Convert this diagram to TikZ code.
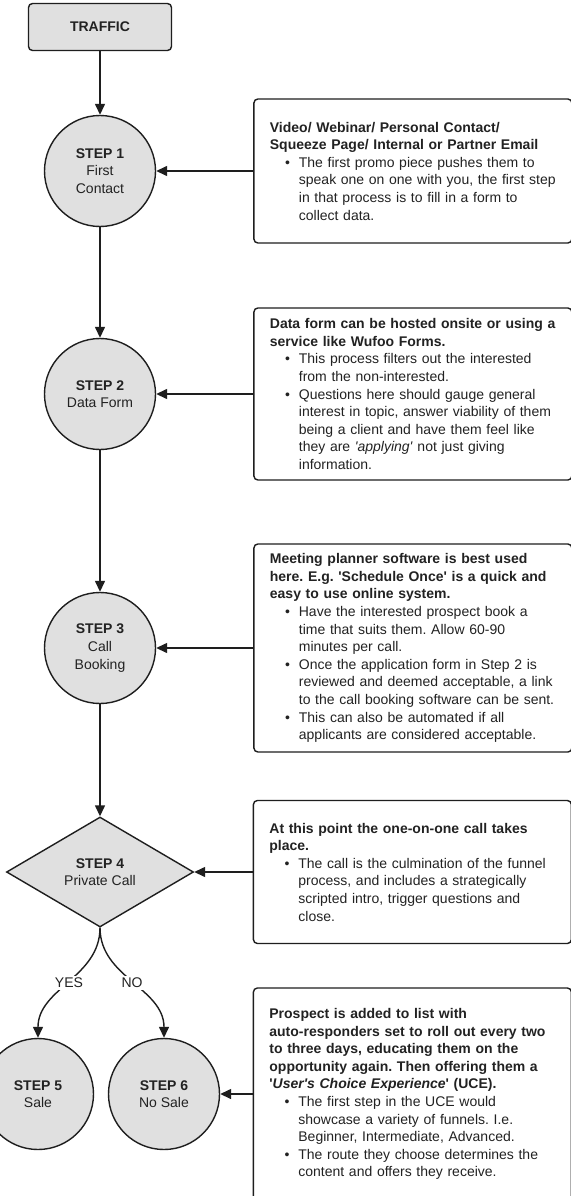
\documentclass[tikz,border=0pt]{standalone}
\usepackage{fontspec}
\setmainfont{Liberation Sans}
\usetikzlibrary{positioning,arrows.meta,shapes.geometric}
\definecolor{StepGray}{HTML}{E0E0E0}
\definecolor{InkDark}{HTML}{1E1E1E}
\definecolor{TextDark}{HTML}{222222}
\frenchspacing

% bullet line inside a note box
\newcommand{\bpoint}[1]{\par{\leftskip=29pt\noindent\llap{\textbullet\hspace{9pt}}#1\par}}
\newcommand{\sq}{\textquotesingle}

\tikzset{
  x=1pt, y=1pt,
  every node/.style={font=\fontsize{14}{17.6}\selectfont, text=TextDark},
  startbox/.style={rectangle, rounded corners=4pt, draw=InkDark, line width=1.4pt,
    fill=StepGray, minimum width=143pt, minimum height=47pt, font=\fontsize{14}{17.6}\selectfont\bfseries},
  stepnode/.style={circle, draw=InkDark, line width=1.4pt, fill=StepGray,
    minimum size=111pt, inner sep=0pt, align=center},
  callnode/.style={diamond, draw=InkDark, line width=1.4pt, fill=StepGray,
    minimum width=187pt, minimum height=110pt, inner sep=0pt, align=center},
  notebox/.style={rectangle, rounded corners=4pt, draw=InkDark, line width=1.4pt,
    fill=white, text width=286pt, inner xsep=16pt, inner ysep=6pt, align=left},
  flow/.style={draw=InkDark, line width=1.4pt, -{Triangle[length=11pt,width=10pt]}},
  answer/.style={fill=white, inner sep=2pt}
}

\begin{document}
\begin{tikzpicture}
\path[use as bounding box, fill=white] (0,0) rectangle (570,-1196);

% main column
\node[startbox] (traffic) at (100,-27) {TRAFFIC};
\node[stepnode] (s1) at (100,-171) {\textbf{STEP 1}\\First\\Contact};
\node[stepnode] (s2) at (100,-394) {\textbf{STEP 2}\\Data Form};
\node[stepnode] (s3) at (100,-648) {\textbf{STEP 3}\\Call\\Booking};
\node[callnode] (s4) at (100,-872) {\textbf{STEP 4}\\Private Call};
\node[stepnode] (s5) at (38,-1094) {\textbf{STEP 5}\\Sale};
\node[stepnode] (s6) at (164,-1094) {\textbf{STEP 6}\\No Sale};

% notes
\node[notebox, minimum height=144pt, right=97pt of s1] (n1) {%
  {\bfseries Video/ Webinar/ Personal Contact/\\Squeeze Page/ Internal or Partner Email}
  \bpoint{The first promo piece pushes them to\\speak one on one with you, the first step\\in that process is to fill in a form to\\collect data.}};
\node[notebox, minimum height=172pt, right=97pt of s2] (n2) {%
  {\bfseries Data form can be hosted onsite or using a\\service like Wufoo Forms.}
  \bpoint{This process filters out the interested\\from the non-interested.}
  \bpoint{Questions here should gauge general\\interest in topic, answer viability of them\\being a client and have them feel like\\they are \textit{\sq applying\sq} not just giving\\information.}};
\node[notebox, minimum height=208pt, right=97pt of s3] (n3) {%
  {\bfseries Meeting planner software is best used\\here. E.g. \sq Schedule Once\sq{} is a quick and\\easy to use online system.}
  \bpoint{Have the interested prospect book a\\time that suits them. Allow 60-90\\minutes per call.}
  \bpoint{Once the application form in Step 2 is\\reviewed and deemed acceptable, a link\\to the call booking software can be sent.}
  \bpoint{This can also be automated if all\\applicants are considered acceptable.}};
\node[notebox, minimum height=143pt, right=58.5pt of s4] (n4) {%
  {\bfseries At this point the one-on-one call takes\\place.}
  \bpoint{The call is the culmination of the funnel\\process, and includes a strategically\\scripted intro, trigger questions and\\close.}};
\node[notebox, minimum height=212pt, right=32.5pt of s6] (n5) {%
  {\bfseries Prospect is added to list with\\auto-responders set to roll out every two\\to three days, educating them on the\\opportunity again. Then offering them a\\\sq\textit{User\sq s Choice Experience}\sq{} (UCE).}
  \bpoint{The first step in the UCE would\\showcase a variety of funnels. I.e.\\Beginner, Intermediate, Advanced.}
  \bpoint{The route they choose determines the\\content and offers they receive.}};

% connectors
\draw[flow] (traffic) -- (s1);
\draw[flow] (s1) -- (s2);
\draw[flow] (s2) -- (s3);
\draw[flow] (s3) -- (s4);
\draw[flow] (n1) -- (s1);
\draw[flow] (n2) -- (s2);
\draw[flow] (n3) -- (s3);
\draw[flow] (n4) -- (s4);
\draw[flow] (n5) -- (s6);
\draw[flow] (s4.south) to[out=-90, in=90] node[answer] {YES} (s5.north);
\draw[flow] (s4.south) to[out=-90, in=90] node[answer] {NO} (s6.north);
\end{tikzpicture}
\end{document}
